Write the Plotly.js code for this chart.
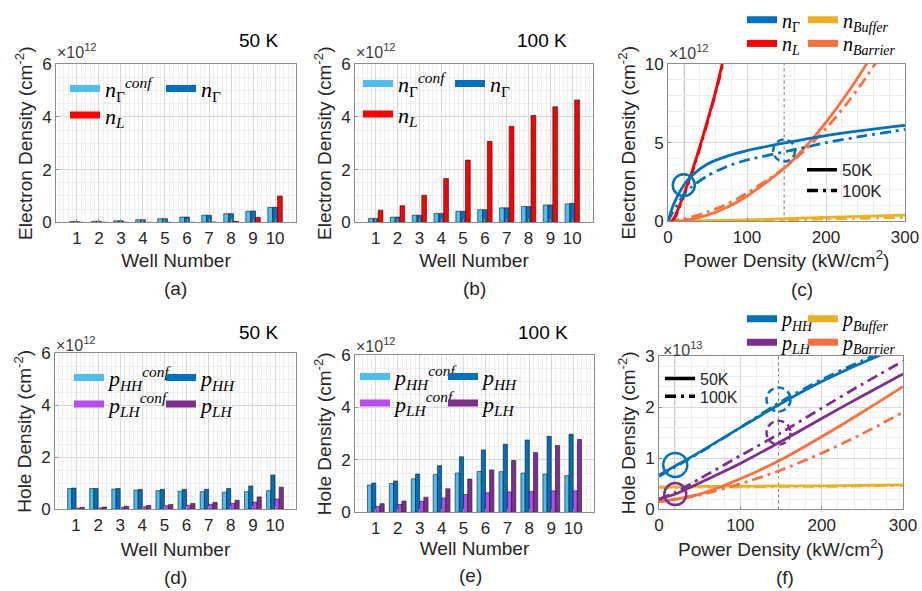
<!DOCTYPE html>
<html><head><meta charset="utf-8">
<script src="https://cdn.plot.ly/plotly-3.0.1.min.js"></script>
<style>html,body{margin:0;padding:0;background:#fff}#chart{width:922px;height:591px}</style>
</head><body><div id="chart"></div>
<script>
// ---------------- DATA ----------------
const wells = [1,2,3,4,5,6,7,8,9,10];
// (a) 50 K electron densities (x1e12 cm^-2)
const a_nGconf = [0.03,0.04,0.06,0.10,0.14,0.20,0.27,0.33,0.42,0.57];
const a_nG     = [0.03,0.04,0.06,0.10,0.14,0.20,0.27,0.33,0.43,0.57];
const a_nL     = [0.00,0.00,0.00,0.00,0.00,0.00,0.01,0.04,0.19,1.00];
// (b) 100 K electron densities
const b_nGconf = [0.15,0.20,0.27,0.34,0.42,0.48,0.55,0.60,0.66,0.70];
const b_nG     = [0.15,0.20,0.27,0.34,0.42,0.48,0.55,0.60,0.66,0.72];
const b_nL     = [0.46,0.63,1.03,1.66,2.36,3.07,3.64,4.05,4.38,4.64];
// (d) 50 K hole densities
const d_pHHconf = [0.80,0.80,0.78,0.74,0.72,0.70,0.68,0.66,0.68,0.72];
const d_pHH     = [0.82,0.80,0.80,0.77,0.77,0.77,0.77,0.80,0.90,1.32];
const d_pLHconf = [0.05,0.06,0.08,0.10,0.14,0.16,0.19,0.23,0.28,0.40];
const d_pLH     = [0.08,0.09,0.12,0.15,0.19,0.23,0.27,0.35,0.48,0.85];
// (e) 100 K hole densities
const e_pHHconf = [1.04,1.10,1.28,1.44,1.50,1.56,1.55,1.50,1.46,1.40];
const e_pHH     = [1.12,1.20,1.46,1.78,2.12,2.38,2.60,2.76,2.90,2.98];
const e_pLHconf = [0.23,0.30,0.42,0.55,0.68,0.75,0.78,0.80,0.82,0.82];
const e_pLH     = [0.33,0.43,0.58,0.90,1.27,1.62,1.98,2.28,2.55,2.78];
// (c) electron density vs power density (kW/cm^2), x1e12 cm^-2
const c_pd      = [0,5,10,20,30,50,75,100,150,200,250,300];
const c_nG50    = [0,0.8,1.4,2.3,2.9,3.65,4.15,4.5,5.0,5.45,5.8,6.1];
const c_nG100   = [0,0.5,0.9,1.7,2.2,2.9,3.5,3.9,4.45,5.0,5.45,5.85];
const c_pdL     = [5,10,20,30,40,50,60,70,80];
const c_nL50    = [0,0.45,1.7,3.1,4.7,6.4,8.2,10.3,12.4];
const c_nL100   = [0,0.35,1.6,3.0,4.6,6.3,8.1,10.1,12.2];
const c_pdB     = [0,20,50,75,100,125,150,175,200,225,250,275];
const c_nBar50  = [0,0.05,0.4,0.9,1.6,2.5,3.5,4.8,6.3,8.0,9.9,12.0];
const c_nBar100 = [0,0.15,0.6,1.1,1.8,2.6,3.5,4.6,5.9,7.4,9.1,11.0];
const c_pdBuf   = [0,100,200,300];
const c_nBuf50  = [0,0.1,0.25,0.4];
const c_nBuf100 = [0,0.05,0.15,0.25];
// (f) hole density vs power density, x1e13 cm^-2
const f_pd       = [0,20,50,100,150,200,250,300];
const f_pHH50    = [0.67,0.85,1.12,1.6,2.07,2.5,2.87,3.2];
const f_pHH100   = [0.65,0.83,1.11,1.6,2.11,2.54,2.91,3.25];
const f_pLH50    = [0.2,0.3,0.52,0.9,1.33,1.78,2.22,2.65];
const f_pLH100   = [0.2,0.33,0.6,1.05,1.5,1.98,2.45,2.9];
const f_pBar50   = [0.15,0.2,0.3,0.6,0.97,1.42,1.9,2.4];
const f_pBar100  = [0.15,0.19,0.28,0.5,0.77,1.1,1.48,1.9];
const f_pBuf50   = [0.44,0.44,0.45,0.45,0.46,0.46,0.47,0.48];
const f_pBuf100  = [0.43,0.43,0.44,0.44,0.45,0.45,0.46,0.47];
// highlighted operating points (power density, density)
const c_circ_solid = [20, 2.3];
const c_circ_dash  = [147, 4.5];
const f_circ_HH_solid = [20, 0.87];
const f_circ_LH_solid = [20, 0.3];
const f_circ_HH_dash  = [147, 2.15];
const f_circ_LH_dash  = [147, 1.5];
const markPD = [20, 147];
// labels
const tempA = '50 K', tempB = '100 K';

// ---------------- STYLE ----------------
const W = 922, H = 591;
const PX = v => v / W, PY = v => 1 - v / H;
const SANS = 'Liberation Sans, Arial, sans-serif';
const SERIF = 'Liberation Serif, DejaVu Serif, serif';
const TXT = '#262626';
const C = {lb:'#4DBEEE', db:'#0072BD', red:'#FF0000', lp:'#B84BF5', dp:'#7E2F8E',
           blue:'#0072BD', yel:'#EDB120', org:'#FF6F3C', purp:'#7E2F8E'};
const DASHDOT = '11px,5px,3px,5px';

function axis(dom, range, dtick, mdtick, anchor, extra) {
  return Object.assign({
    domain: dom, range: range, anchor: anchor, dtick: dtick, tick0: 0,
    showgrid: true, gridcolor: '#d9d9d9', gridwidth: 1,
    minor: {dtick: mdtick, tick0: 0, showgrid: true, gridcolor: '#eeeeee', gridwidth: 1},
    showline: true, linecolor: '#8c8c8c', linewidth: 1, mirror: true,
    ticks: 'inside', ticklen: 3, tickcolor: '#8c8c8c',
    tickfont: {family: SANS, size: 17, color: TXT},
    zeroline: false, automargin: false
  }, extra || {});
}
function xtitle(t, s) { return {text: t, font: {family: SANS, size: 19, color: TXT}, standoff: s}; }
function ytitle(t, s) { return {text: t, font: {family: SANS, size: 19, color: TXT}, standoff: s}; }

const traces = [];
function bar(xa, ya, y, color, offset, width) {
  traces.push({type: 'bar', x: wells, y: y, xaxis: xa, yaxis: ya, offset: offset, width: width,
    marker: {color: color, line: {color: '#1a1a1a', width: 0.6}}, showlegend: false, hoverinfo: 'y'});
}
function line(xa, ya, x, y, color, dash) {
  traces.push({type: 'scatter', mode: 'lines', x: x, y: y, xaxis: xa, yaxis: ya,
    line: {color: color, width: 2.8, dash: dash, shape: 'spline', smoothing: 0.7}, showlegend: false});
}
let legN = 0;
const legends = {};
function legItem(name, color, width, dash, sx, sy, font) {
  legN++;
  const id = legN === 1 ? 'legend' : 'legend' + legN;
  legends[id] = {x: PX(sx - 5), y: PY(sy), xanchor: 'left', yanchor: 'middle',
    bgcolor: 'rgba(0,0,0,0)', borderwidth: 0, font: font, itemwidth: 30,
    itemclick: false, itemdoubleclick: false};
  traces.push({type: 'scatter', mode: 'lines', x: [null], y: [null], name: name,
    line: {color: color, width: width, dash: dash}, legend: id, showlegend: true, hoverinfo: 'skip'});
}
const MF = {family: SERIF, size: 22, color: '#000'};
const MF2 = {family: SERIF, size: 20, color: '#000'};
const LF = {family: SANS, size: 17, color: TXT};
const LF2 = {family: SANS, size: 16, color: TXT};

// (a)
bar('x', 'y', a_nGconf, C.lb, -0.33, 0.22);
bar('x', 'y', a_nG, C.db, -0.11, 0.22);
bar('x', 'y', a_nL, C.red, 0.11, 0.22);
legItem('<i>n</i><sub>Γ</sub><sup><i>conf</i></sup>', C.lb, 7, 'solid', 70, 80, MF);
legItem('<i>n</i><sub>Γ</sub>', C.db, 7, 'solid', 166, 80, MF);
legItem('<i>n</i><sub><i>L</i></sub>', C.red, 7, 'solid', 70, 107, MF);
// (b)
bar('x2', 'y2', b_nGconf, C.lb, -0.33, 0.22);
bar('x2', 'y2', b_nG, C.db, -0.11, 0.22);
bar('x2', 'y2', b_nL, C.red, 0.11, 0.22);
legItem('<i>n</i><sub>Γ</sub><sup><i>conf</i></sup>', C.lb, 7, 'solid', 363, 75, MF);
legItem('<i>n</i><sub>Γ</sub>', C.db, 7, 'solid', 455, 75, MF);
legItem('<i>n</i><sub><i>L</i></sub>', C.red, 7, 'solid', 363, 106, MF);
// (c)
line('x3', 'y3', c_pdBuf, c_nBuf50, C.yel, 'solid');
line('x3', 'y3', c_pdBuf, c_nBuf100, C.yel, DASHDOT);
line('x3', 'y3', c_pdB, c_nBar50, C.org, 'solid');
line('x3', 'y3', c_pdB, c_nBar100, C.org, DASHDOT);
line('x3', 'y3', c_pdL, c_nL50, C.red, 'solid');
line('x3', 'y3', c_pdL, c_nL100, C.red, DASHDOT);
line('x3', 'y3', c_pd, c_nG50, C.blue, 'solid');
line('x3', 'y3', c_pd, c_nG100, C.blue, DASHDOT);
legItem('<i>n</i><sub>Γ</sub>', C.blue, 7, 'solid', 747, 10, MF2);
legItem('<i>n</i><sub><i>Buffer</i></sub>', C.yel, 7, 'solid', 808, 10, MF2);
legItem('<i>n</i><sub><i>L</i></sub>', C.red, 7, 'solid', 747, 34, MF2);
legItem('<i>n</i><sub><i>Barrier</i></sub>', C.org, 7, 'solid', 808, 34, MF2);
legItem('50K', '#000', 3.5, 'solid', 807, 163, LF);
legItem('100K', '#000', 3.5, DASHDOT, 807, 184, LF);
// (d)
bar('x4', 'y4', d_pHHconf, C.lb, -0.38, 0.19);
bar('x4', 'y4', d_pHH, C.db, -0.19, 0.19);
bar('x4', 'y4', d_pLHconf, C.lp, 0.0, 0.19);
bar('x4', 'y4', d_pLH, C.dp, 0.19, 0.19);
legItem('<i>p</i><sub><i>HH</i></sub><sup><i>conf</i></sup>', C.lb, 7, 'solid', 74, 374, MF);
legItem('<i>p</i><sub><i>HH</i></sub>', C.db, 7, 'solid', 166, 374, MF);
legItem('<i>p</i><sub><i>LH</i></sub><sup><i>conf</i></sup>', C.lp, 7, 'solid', 74, 401, MF);
legItem('<i>p</i><sub><i>LH</i></sub>', C.dp, 7, 'solid', 166, 401, MF);
// (e)
bar('x5', 'y5', e_pHHconf, C.lb, -0.38, 0.19);
bar('x5', 'y5', e_pHH, C.db, -0.19, 0.19);
bar('x5', 'y5', e_pLHconf, C.lp, 0.0, 0.19);
bar('x5', 'y5', e_pLH, C.dp, 0.19, 0.19);
legItem('<i>p</i><sub><i>HH</i></sub><sup><i>conf</i></sup>', C.lb, 7, 'solid', 360, 373, MF);
legItem('<i>p</i><sub><i>HH</i></sub>', C.db, 7, 'solid', 448, 373, MF);
legItem('<i>p</i><sub><i>LH</i></sub><sup><i>conf</i></sup>', C.lp, 7, 'solid', 360, 400, MF);
legItem('<i>p</i><sub><i>LH</i></sub>', C.dp, 7, 'solid', 448, 400, MF);
// (f)
line('x6', 'y6', f_pd, f_pBuf100, C.yel, DASHDOT);
line('x6', 'y6', f_pd, f_pBuf50, C.yel, 'solid');
line('x6', 'y6', f_pd, f_pBar50, C.org, 'solid');
line('x6', 'y6', f_pd, f_pBar100, C.org, DASHDOT);
line('x6', 'y6', f_pd, f_pLH50, C.purp, 'solid');
line('x6', 'y6', f_pd, f_pLH100, C.purp, DASHDOT);
line('x6', 'y6', f_pd, f_pHH50, C.blue, 'solid');
line('x6', 'y6', f_pd, f_pHH100, C.blue, DASHDOT);
legItem('<i>p</i><sub><i>HH</i></sub>', C.blue, 7, 'solid', 747, 314, MF2);
legItem('<i>p</i><sub><i>Buffer</i></sub>', C.yel, 7, 'solid', 808, 314, MF2);
legItem('<i>p</i><sub><i>LH</i></sub>', C.purp, 7, 'solid', 747, 338, MF2);
legItem('<i>p</i><sub><i>Barrier</i></sub>', C.org, 7, 'solid', 808, 338, MF2);
legItem('50K', '#000', 3.5, 'solid', 665, 375, LF2);
legItem('100K', '#000', 3.5, DASHDOT, 665, 393, LF2);

// ---------------- SHAPES ----------------
const shapes = [];
function vline(xa, ya, x, dash, color) {
  shapes.push({type: 'line', xref: xa, yref: ya + ' domain', x0: x, x1: x, y0: 0, y1: 1,
    line: {color: color, width: dash === 'solid' ? 1.5 : 1, dash: dash}, layer: 'below'});
}
function circ(xa, ya, c, color, dash, r) {
  shapes.push({type: 'circle', xref: xa, yref: ya, xsizemode: 'pixel', ysizemode: 'pixel',
    xanchor: c[0], yanchor: c[1], x0: -r, x1: r, y0: -r, y1: r,
    line: {color: color, width: 2.5, dash: dash}});
}
vline('x3', 'y3', markPD[0], 'solid', '#9a9a9a');
vline('x3', 'y3', markPD[1], 'dot', '#6e6e6e');
vline('x6', 'y6', markPD[0], 'solid', '#9a9a9a');
vline('x6', 'y6', markPD[1], 'dot', '#6e6e6e');
circ('x3', 'y3', c_circ_solid, C.blue, 'solid', 11);
circ('x3', 'y3', c_circ_dash, C.blue, '7px,4px', 11);
circ('x6', 'y6', f_circ_HH_solid, C.blue, 'solid', 12);
circ('x6', 'y6', f_circ_LH_solid, C.purp, 'solid', 11);
circ('x6', 'y6', f_circ_HH_dash, C.blue, '7px,4px', 12);
circ('x6', 'y6', f_circ_LH_dash, C.purp, '7px,4px', 12);

// ---------------- ANNOTATIONS ----------------
const ann = [];
function txt(t, x, y, size, color, xanchor) {
  ann.push({text: t, x: PX(x), y: PY(y), xref: 'paper', yref: 'paper', showarrow: false,
    xanchor: xanchor || 'center', yanchor: 'middle', font: {family: SANS, size: size, color: color}});
}
txt(tempA, 258, 31, 19, '#000'); txt(tempB, 542, 31, 19, '#000');
txt(tempA, 258, 328, 19, '#000'); txt(tempB, 543, 328, 19, '#000');
txt('×10<sup>12</sup>', 55, 42, 16, '#404040', 'left');
txt('×10<sup>12</sup>', 354, 42, 16, '#404040', 'left');
txt('×10<sup>12</sup>', 667, 43, 16, '#404040', 'left');
txt('×10<sup>12</sup>', 54, 340, 16, '#404040', 'left');
txt('×10<sup>12</sup>', 354, 341, 16, '#404040', 'left');
txt('×10<sup>13</sup>', 661, 345, 16, '#404040', 'left');
txt('(a)', 175, 283, 19, TXT); txt('(b)', 475, 283, 19, TXT); txt('(c)', 802, 284, 19, TXT);
txt('(d)', 175, 577, 19, TXT); txt('(e)', 470, 575, 19, TXT); txt('(f)', 785, 577, 19, TXT);

// ---------------- LAYOUT ----------------
const wellAxis = {tickvals: wells, ticktext: wells.map(String)};
const layout = Object.assign({
  width: W, height: H, margin: {l: 0, r: 0, t: 0, b: 0},
  paper_bgcolor: '#fff', plot_bgcolor: '#fff', barmode: 'overlay', showlegend: true,
  xaxis:  axis([PX(56), PX(296)], [0.05, 10.95], 1, 0.2, 'y', Object.assign({title: xtitle('Well Number', 6)}, wellAxis)),
  yaxis:  axis([PY(216), PY(55)], [0, 6], 2, 0.5, 'x', {title: ytitle('Electron Density (cm<sup>-2</sup>)', 4)}),
  xaxis2: axis([PX(355), PX(593)], [0.05, 10.95], 1, 0.2, 'y2', Object.assign({title: xtitle('Well Number', 6)}, wellAxis)),
  yaxis2: axis([PY(216), PY(55)], [0, 6], 2, 0.5, 'x2', {title: ytitle('Electron Density (cm<sup>-2</sup>)', 4)}),
  xaxis3: axis([PX(668), PX(905)], [0, 300], 100, 20, 'y3', {title: xtitle('Power Density (kW/cm<sup>2</sup>)', 6)}),
  yaxis3: axis([PY(215), PY(55)], [0, 10], 5, 1, 'x3', {title: ytitle('Electron Density (cm<sup>-2</sup>)', 4)}),
  xaxis4: axis([PX(55), PX(296)], [0.05, 10.95], 1, 0.2, 'y4', Object.assign({title: xtitle('Well Number', 8)}, wellAxis)),
  yaxis4: axis([PY(508), PY(349)], [0, 6], 2, 0.5, 'x4', {title: ytitle('Hole Density (cm<sup>-2</sup>)', 4)}),
  xaxis5: axis([PX(355), PX(594)], [0.05, 10.95], 1, 0.2, 'y5', Object.assign({title: xtitle('Well Number', 2)}, wellAxis)),
  yaxis5: axis([PY(511), PY(351)], [0, 6], 2, 0.5, 'x5', {title: ytitle('Hole Density (cm<sup>-2</sup>)', 4)}),
  xaxis6: axis([PX(659), PX(903)], [0, 300], 100, 20, 'y6', {title: xtitle('Power Density (kW/cm<sup>2</sup>)', 8)}),
  yaxis6: axis([PY(508), PY(352)], [0, 3], 1, 0.2, 'x6', {title: ytitle('Hole Density (cm<sup>-2</sup>)', 4)}),
  shapes: shapes, annotations: ann
}, legends);

Plotly.newPlot('chart', traces, layout, {staticPlot: true, displayModeBar: false});
</script>
</body></html>
